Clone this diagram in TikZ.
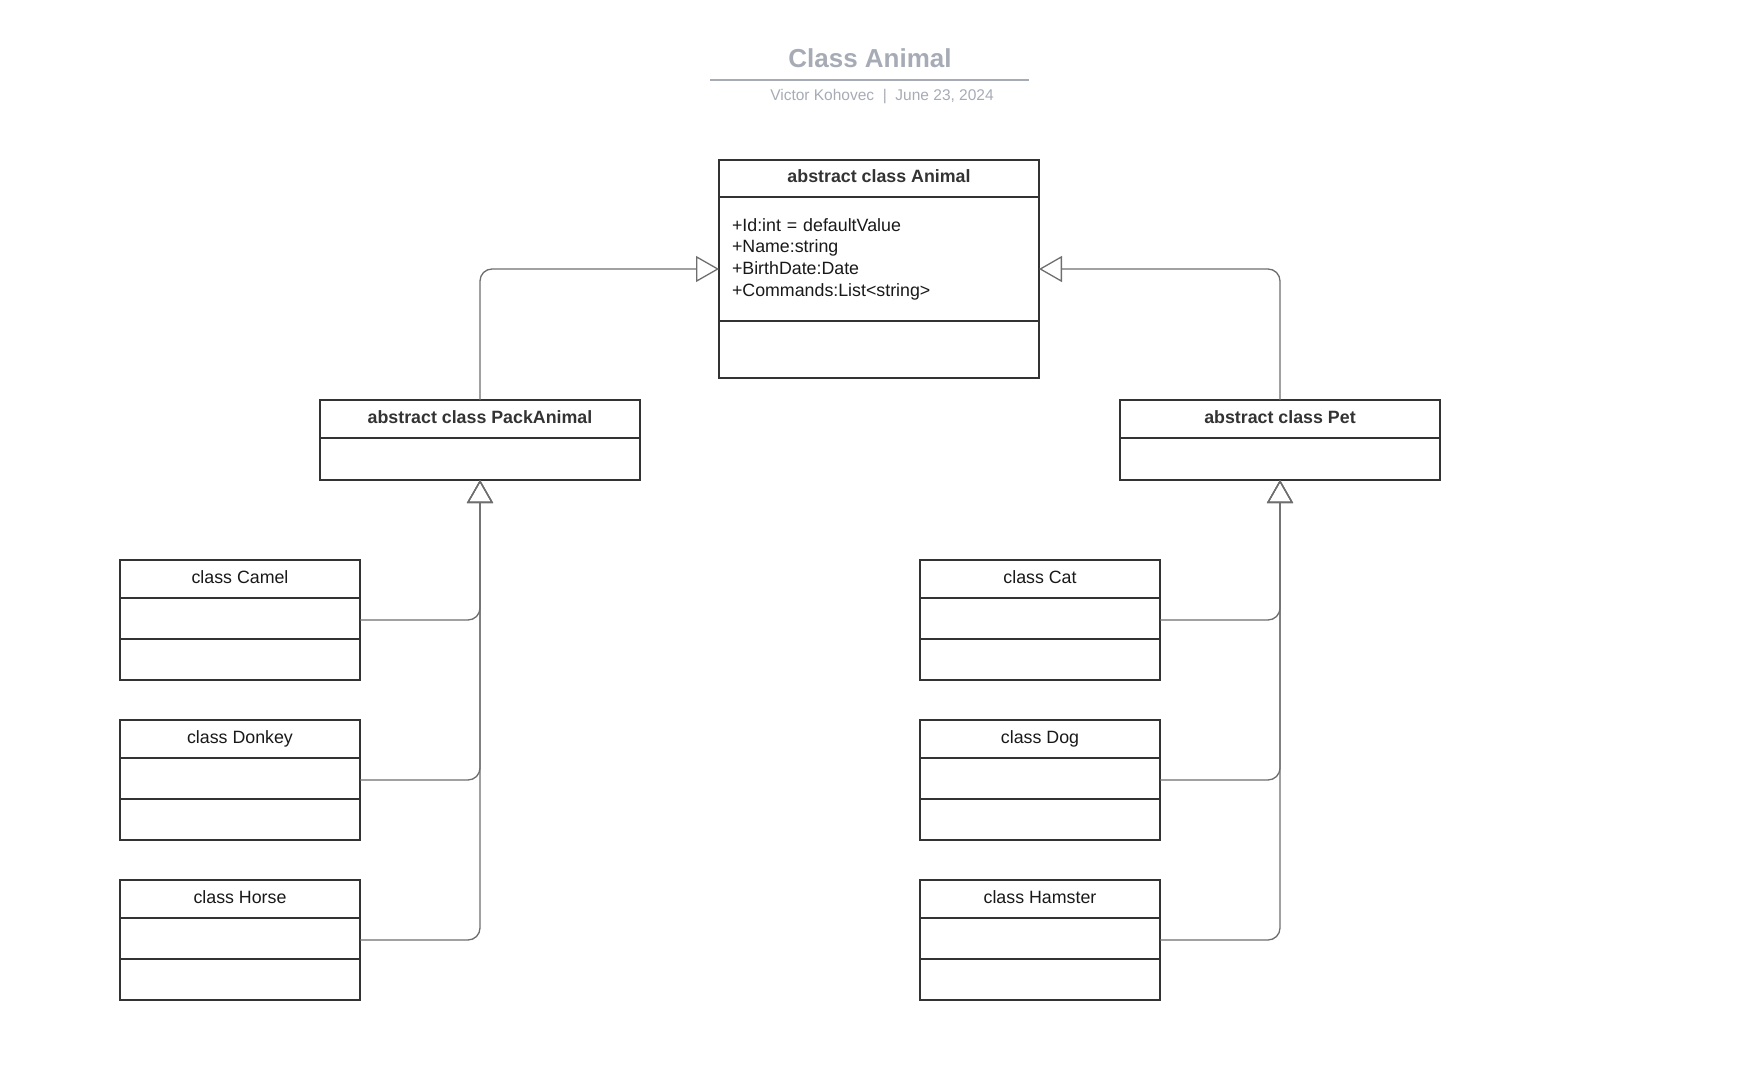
\documentclass[tikz,border=0pt]{standalone}
\usepackage{fontspec}
\setmainfont{Liberation Sans}
\usetikzlibrary{positioning,arrows.meta}
\definecolor{boxline}{HTML}{333333}
\definecolor{linkgray}{HTML}{6E6E6E}
\definecolor{titlegray}{HTML}{A6ABB5}

\begin{document}
\begin{tikzpicture}[x=1pt, y=-1pt,
    every node/.style={font=\fontsize{17.8}{21.6}\selectfont, text=black!90, inner sep=0pt, outer sep=0pt},
    classbox/.style={draw=boxline, line width=2pt, fill=white},
    compart/.style={draw=boxline, line width=2pt, text height=12.5pt, text depth=3.5pt},
    inherit/.style={draw=linkgray, line width=1.3pt, rounded corners=12pt, -{Triangle[open, length=23pt, width=26pt]}}]
    \useasboundingbox (0,0) rectangle (1760,1075);

    % Heading
    \node (title) [anchor=base, font=\bfseries\fontsize{26}{30}\selectfont, text=titlegray] at (870,68) {Class Animal};
    \draw [titlegray, line width=2pt] (710,80) -- (1029,80);
    \node (byline) [anchor=base, font=\fontsize{15.5}{18}\selectfont, text=titlegray] at (882,101) {Victor Kohovec\ \ |\ \ June 23, 2024};

    % Base class
    \node (animal) [classbox, minimum width=320, minimum height=218] at (879,269) {};
    \node (animal-t) [compart, minimum width=320, minimum height=37, font=\bfseries\fontsize{17.8}{21.6}\selectfont, text=boxline, below=0pt of animal.north] {abstract class Animal};
    \node (animal-a) [draw=boxline, line width=2pt, minimum width=320, minimum height=124, text width=294, align=left, below=0pt of animal-t] {+Id:int = defaultValue\\+Name:string\\+BirthDate:Date\\+Commands:List<string>};

    % Abstract classes
    \node (packanimal) [classbox, minimum width=320, minimum height=80] at (480,440) {};
    \node (packanimal-t) [compart, minimum width=320, minimum height=38, font=\bfseries\fontsize{17.8}{21.6}\selectfont, text=boxline, below=0pt of packanimal.north] {abstract class PackAnimal};

    \node (pet) [classbox, minimum width=320, minimum height=80] at (1280,440) {};
    \node (pet-t) [compart, minimum width=320, minimum height=38, font=\bfseries\fontsize{17.8}{21.6}\selectfont, text=boxline, below=0pt of pet.north] {abstract class Pet};

    % Pack animals
    \node (camel) [classbox, minimum width=240, minimum height=120] at (240,620) {};
    \node (camel-t) [compart, minimum width=240, minimum height=38, below=0pt of camel.north] {class Camel};
    \node (camel-a) [compart, minimum width=240, minimum height=41, below=0pt of camel-t] {};

    \node (donkey) [classbox, minimum width=240, minimum height=120, below=40pt of camel] {};
    \node (donkey-t) [compart, minimum width=240, minimum height=38, below=0pt of donkey.north] {class Donkey};
    \node (donkey-a) [compart, minimum width=240, minimum height=41, below=0pt of donkey-t] {};

    \node (horse) [classbox, minimum width=240, minimum height=120, below=40pt of donkey] {};
    \node (horse-t) [compart, minimum width=240, minimum height=38, below=0pt of horse.north] {class Horse};
    \node (horse-a) [compart, minimum width=240, minimum height=41, below=0pt of horse-t] {};

    % Pets
    \node (cat) [classbox, minimum width=240, minimum height=120] at (1040,620) {};
    \node (cat-t) [compart, minimum width=240, minimum height=38, below=0pt of cat.north] {class Cat};
    \node (cat-a) [compart, minimum width=240, minimum height=41, below=0pt of cat-t] {};

    \node (dog) [classbox, minimum width=240, minimum height=120, below=40pt of cat] {};
    \node (dog-t) [compart, minimum width=240, minimum height=38, below=0pt of dog.north] {class Dog};
    \node (dog-a) [compart, minimum width=240, minimum height=41, below=0pt of dog-t] {};

    \node (hamster) [classbox, minimum width=240, minimum height=120, below=40pt of dog] {};
    \node (hamster-t) [compart, minimum width=240, minimum height=38, below=0pt of hamster.north] {class Hamster};
    \node (hamster-a) [compart, minimum width=240, minimum height=41, below=0pt of hamster-t] {};

    % Inheritance
    \draw [inherit] (packanimal.north) |- (animal.west);
    \draw [inherit] (pet.north) |- (animal.east);

    \draw [inherit] (camel.east) -| (packanimal.south);
    \draw [inherit] (donkey.east) -| (packanimal.south);
    \draw [inherit] (horse.east) -| (packanimal.south);

    \draw [inherit] (cat.east) -| (pet.south);
    \draw [inherit] (dog.east) -| (pet.south);
    \draw [inherit] (hamster.east) -| (pet.south);
\end{tikzpicture}
\end{document}
